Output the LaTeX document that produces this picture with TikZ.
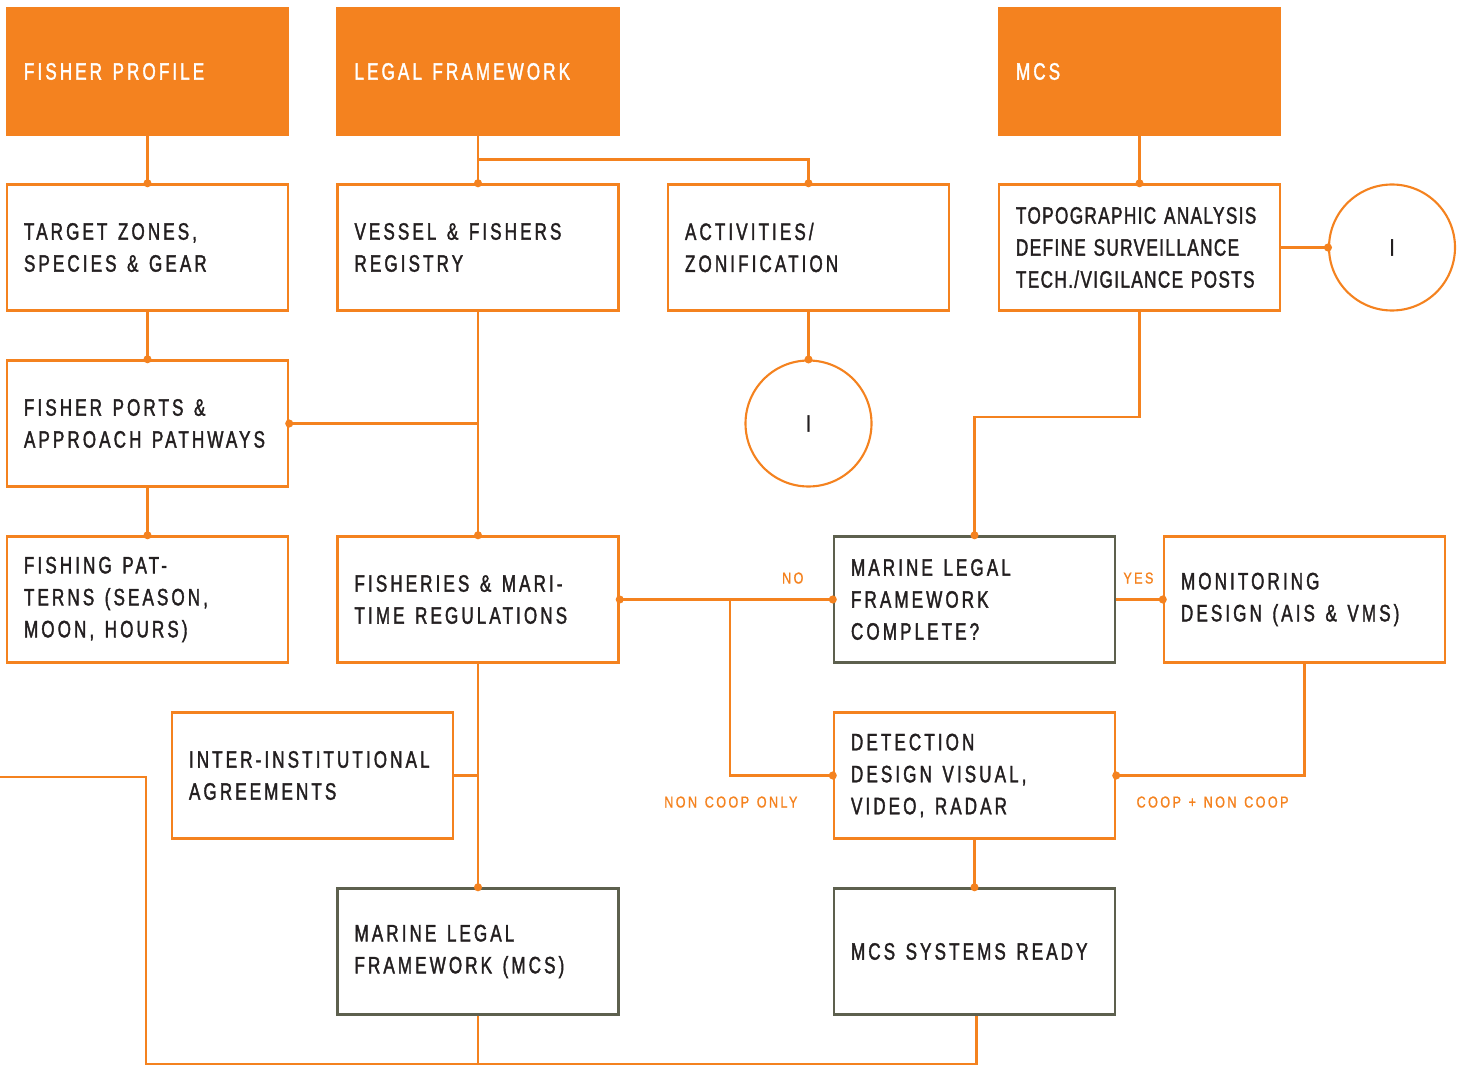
\documentclass[tikz,border=0pt]{standalone}
\usepackage{fontspec}
\usetikzlibrary{positioning, arrows.meta}

\newfontfamily\boxfont{Liberation Sans}[FakeStretch=0.72, LetterSpace=13, FakeBold=1.6]
\newfontfamily\tightfont{Liberation Sans}[FakeStretch=0.72, LetterSpace=6, FakeBold=1.6]
\newfontfamily\tagfont{Liberation Sans}[FakeStretch=0.8, LetterSpace=15, FakeBold=1, WordSpace=1.3]
\newcommand\boxtext{\boxfont\fontsize{13.5}{18.2}\selectfont\spaceskip=6pt plus 1pt\relax}
\newcommand\tighttext{\tightfont\fontsize{13.5}{18.2}\selectfont\spaceskip=4.5pt plus 1pt\relax}

\definecolor{flow}{HTML}{F4821F}
\definecolor{slate}{HTML}{5D604E}
\definecolor{ink}{HTML}{231F20}

\begin{document}
\begin{tikzpicture}[node distance=3.52cm and 6.61cm, on grid,
    box/.style={rectangle, draw=flow, line width=1.4pt, minimum width=5.62cm, minimum height=2.52cm, text width=4.94cm, inner xsep=0.34cm, align=flush left, text=ink, font=\boxtext},
    head/.style={box, fill=flow, draw=flow, text=white},
    grey box/.style={box, draw=slate},
    ring/.style={circle, draw=flow, line width=1.2pt, minimum size=2.52cm, inner sep=0pt, text=ink, font=\boxtext},
    tag/.style={inner sep=0pt, text=flow, font=\tagfont\fontsize{9}{10}\selectfont},
    link/.style={draw=flow, line width=1.4pt},
    dot/.style={-{Circle[length=4.5pt]}, shorten >=-2.25pt},
    dotin/.style={{Circle[length=4.5pt]}-, shorten <=-2.25pt},
    dots/.style={{Circle[length=4.5pt]}-{Circle[length=4.5pt]}, shorten <=-2.25pt, shorten >=-2.25pt}]

    \useasboundingbox (0,0) rectangle (29.3,-21.34);

    \node[head] (fisher) at (2.95,-1.43) {FISHER PROFILE};
    \node[head] (legal) [right=of fisher] {LEGAL FRAMEWORK};
    \node[head] (mcs) [right=13.23cm of legal] {MCS};

    \node[box] (target) [below=of fisher] {TARGET ZONES,\\ SPECIES \& GEAR};
    \node[box] (vessel) [below=of legal] {VESSEL \& FISHERS\\ REGISTRY};
    \node[box] (acts) [right=of vessel] {ACTIVITIES/\\ ZONIFICATION};
    \node[box, font=\tighttext] (topo) [below=of mcs] {TOPOGRAPHIC ANALYSIS\\ DEFINE SURVEILLANCE\\ TECH./VIGILANCE POSTS};
    \node[ring] (ringB) [right=5.05cm of topo] {I};

    \node[box] (ports) [below=of target] {FISHER PORTS \&\\ APPROACH PATHWAYS};
    \node[ring] (ringA) [below=of acts] {I};

    \node[box] (patterns) [below=of ports] {FISHING PAT-\\ TERNS (SEASON,\\ MOON, HOURS)};
    \node[box] (regs) [below=7.04cm of vessel] {FISHERIES \& MARI-\\ TIME REGULATIONS};
    \node[grey box] (check) [right=9.93cm of regs] {MARINE LEGAL\\ FRAMEWORK\\ COMPLETE?};
    \node[box] (monitor) [right=6.6cm of check] {MONITORING\\ DESIGN (AIS \& VMS)};

    \node[box] (inter) [below left=3.52cm and 3.31cm of regs] {INTER-INSTITUTIONAL\\ AGREEMENTS};
    \node[box] (detect) [below=of check] {DETECTION\\ DESIGN VISUAL,\\ VIDEO, RADAR};

    \node[grey box] (mlfmcs) [below=7.04cm of regs] {MARINE LEGAL\\ FRAMEWORK (MCS)};
    \node[grey box] (ready) [below=of detect] {MCS SYSTEMS READY};

    \coordinate (edge) at (0,-15.54);
    \coordinate (loop) at (2.92,-21.28);

    \draw[link, dot] (fisher.south) -- (target.north);
    \draw[link, dot] (target.south) -- (ports.north);
    \draw[link, dot] (ports.south) -- (patterns.north);
    \draw[link, dot] (legal.south) -- (vessel.north);
    \draw[link, dot] (legal.south) ++(0,-0.48) -| (acts.north);
    \draw[link, dot] (vessel.south) -- (regs.north);
    \draw[link, dotin] (ports.east) -- (vessel.south |- ports.east);
    \draw[link, dot] (acts.south) -- (ringA.north);
    \draw[link, dot] (mcs.south) -- (topo.north);
    \draw[link, dot] (topo.east) -- (ringB.west);
    \draw[link, dot] (topo.south) -- ++(0,-2.1) -| (check.north);

    \draw[link, dots] (regs.east) -- (check.west);
    \draw[link, dot] (regs.east) ++(2.2,0) |- (detect.west);
    \draw[link, dot] (check.east) -- (monitor.west);
    \draw[link, dot] (monitor.south) |- (detect.east);
    \draw[link, dot] (detect.south) -- (ready.north);

    \draw[link, dot] (regs.south) -- (mlfmcs.north);
    \draw[link] (inter.east) -- (regs.south |- inter.east);
    \draw[link] (edge) -| (loop) -| ([xshift=0.04cm]ready.south);
    \draw[link] (mlfmcs.south) -- (mlfmcs.south |- loop);

    \node[tag, anchor=base east] (no) at ([xshift=-0.58cm, yshift=0.32cm]check.west) {NO};
    \node[tag, anchor=base east] (yes) at ([xshift=-0.18cm, yshift=0.32cm]monitor.west) {YES};
    \node[tag, anchor=base east] (noncoop) at ([xshift=-0.7cm, yshift=-0.64cm]detect.west) {NON COOP ONLY};
    \node[tag, anchor=base west] (coop) at ([xshift=0.4cm, yshift=-0.64cm]detect.east) {COOP + NON COOP};

\end{tikzpicture}
\end{document}
